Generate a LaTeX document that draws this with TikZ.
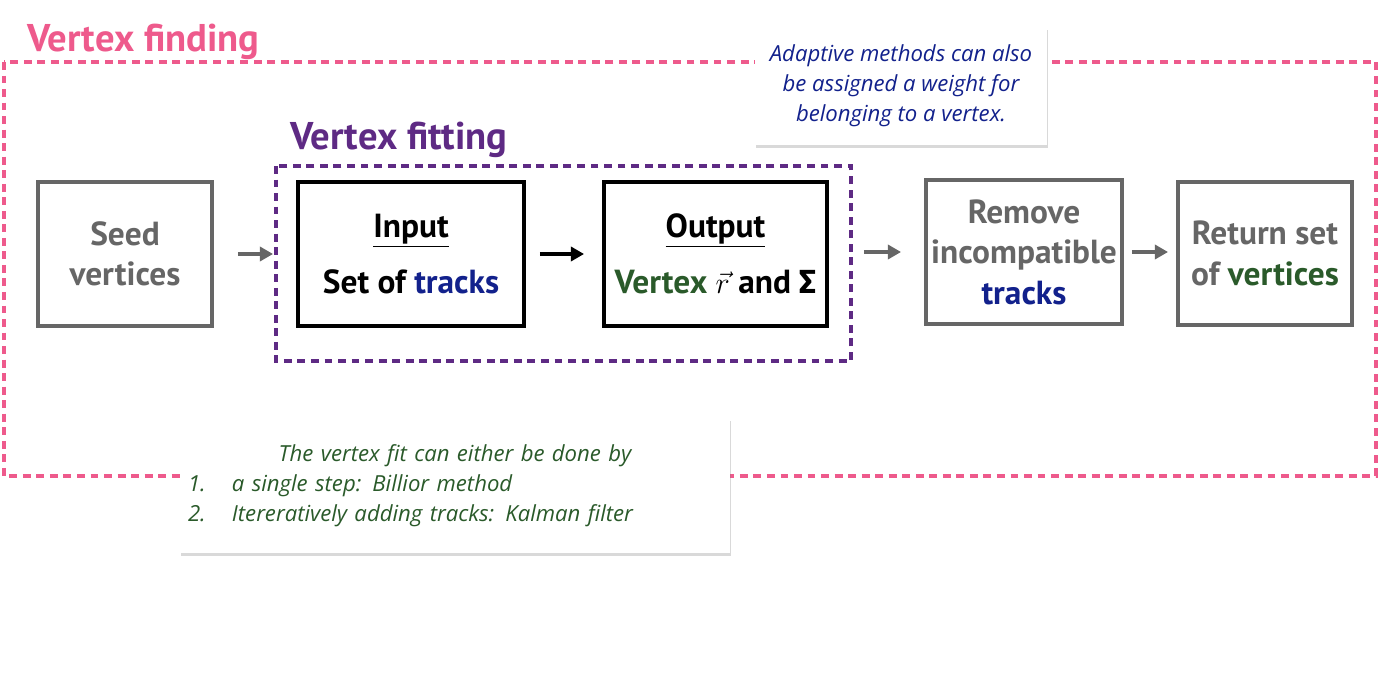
\documentclass[tikz,border=0pt]{standalone}
\usepackage{fontspec}
\setmainfont{PT Sans}
\newfontfamily\notefont{Open Sans}
\newfontfamily\greekfont{Fira Sans}
\usetikzlibrary{arrows.meta,shadows}
\definecolor{findpink}{HTML}{EE5A8C}
\definecolor{fitpurple}{HTML}{5E2A84}
\definecolor{boxgray}{HTML}{666666}
\definecolor{tracknavy}{HTML}{12218C}
\definecolor{vertgreen}{HTML}{2A5A2A}
\tikzset{
  >={Triangle[length=7.5pt,width=8pt]},
  {region/.style} ={draw=#1, line width=2.2pt, dash pattern=on 4.5pt off 3.2pt},
  {region title/.style} ={anchor=base west, text=#1, font=\fontsize{22}{24}\selectfont\bfseries},
  {stage/.style} ={draw=#1, line width=2.2pt, fill=white, align=center,
                   font=\fontsize{19}{23}\selectfont\bfseries, inner sep=0},
  stage/.default = boxgray,
  {flow/.style} ={->, line width=2.2pt, draw=#1, fill=#1},
  flow/.default = boxgray,
  {remark/.style} ={fill=white, drop shadow={opacity=.3, shadow xshift=0.6pt, shadow yshift=-1.8pt},
                    font=\notefont\itshape\fontsize{12.6}{17}\selectfont, inner sep=0},
}
\begin{document}
\begin{tikzpicture}[x=0.02cm,y=-0.02cm]
\useasboundingbox (0,0) rectangle (1380,686);
\draw[region=findpink] (4,62) rectangle (1376,476);
\node[region title=findpink] (findtitle) at (21,52) {Vertex finding};
\draw[region=fitpurple] (276,166) rectangle (851,361);
\node[region title=fitpurple] (fittitle) at (284,150) {Vertex fitting};

\node[stage, text=boxgray, minimum width=174*0.02cm, minimum height=144*0.02cm] (seed) at (125,254) {Seed\\vertices};
\node[stage=black, minimum width=226*0.02cm, minimum height=144*0.02cm] (input) at (411,254)
  {\underline{Input}\\[9pt]Set of \textcolor{tracknavy}{tracks}};
\node[stage=black, minimum width=223*0.02cm, minimum height=144*0.02cm] (output) at (715.5,254)
  {\underline{Output}\\[9pt]\textcolor{vertgreen}{Vertex} $\vec{r}$ and {\greekfont\bfseries Σ}};
\node[stage, text=boxgray, minimum width=196*0.02cm, minimum height=144*0.02cm] (remove) at (1024,252)
  {Remove\\incompatible\\\textcolor{tracknavy}{tracks}};
\node[stage, text=boxgray, minimum width=174*0.02cm, minimum height=143*0.02cm] (return) at (1265,253.5)
  {Return set\\of \textcolor{vertgreen}{vertices}};

\draw[flow, shorten <=0.48cm, shorten >=0.46cm] (seed) -- (input);
\draw[flow=black, shorten <=0.28cm, shorten >=0.36cm] (input) -- (output);
\draw[flow, shorten <=0.7cm, shorten >=0.46cm] (output.east |- remove) -- (remove);
\draw[flow, shorten <=0.16cm, shorten >=0.16cm] (remove) -- (return.west |- remove);

% notes
\node[remark, text=tracknavy, align=center, minimum width=292*0.02cm, minimum height=118*0.02cm] (adaptnote) at (901,86)
  {Adaptive methods can also\\be assigned a weight for\\belonging to a vertex.};
\node[remark, text=vertgreen, align=left, inner xsep=4.5pt, text width=534*0.02cm, minimum height=135*0.02cm] (fitnote) at (455,485.5)
  {\makebox[\linewidth]{The vertex fit can either be done by}\\
   \makebox[25pt][l]{1.}a single step: Billior method\\
   \makebox[25pt][l]{2.}Itereratively adding tracks: Kalman filter};
\end{tikzpicture}
\end{document}
